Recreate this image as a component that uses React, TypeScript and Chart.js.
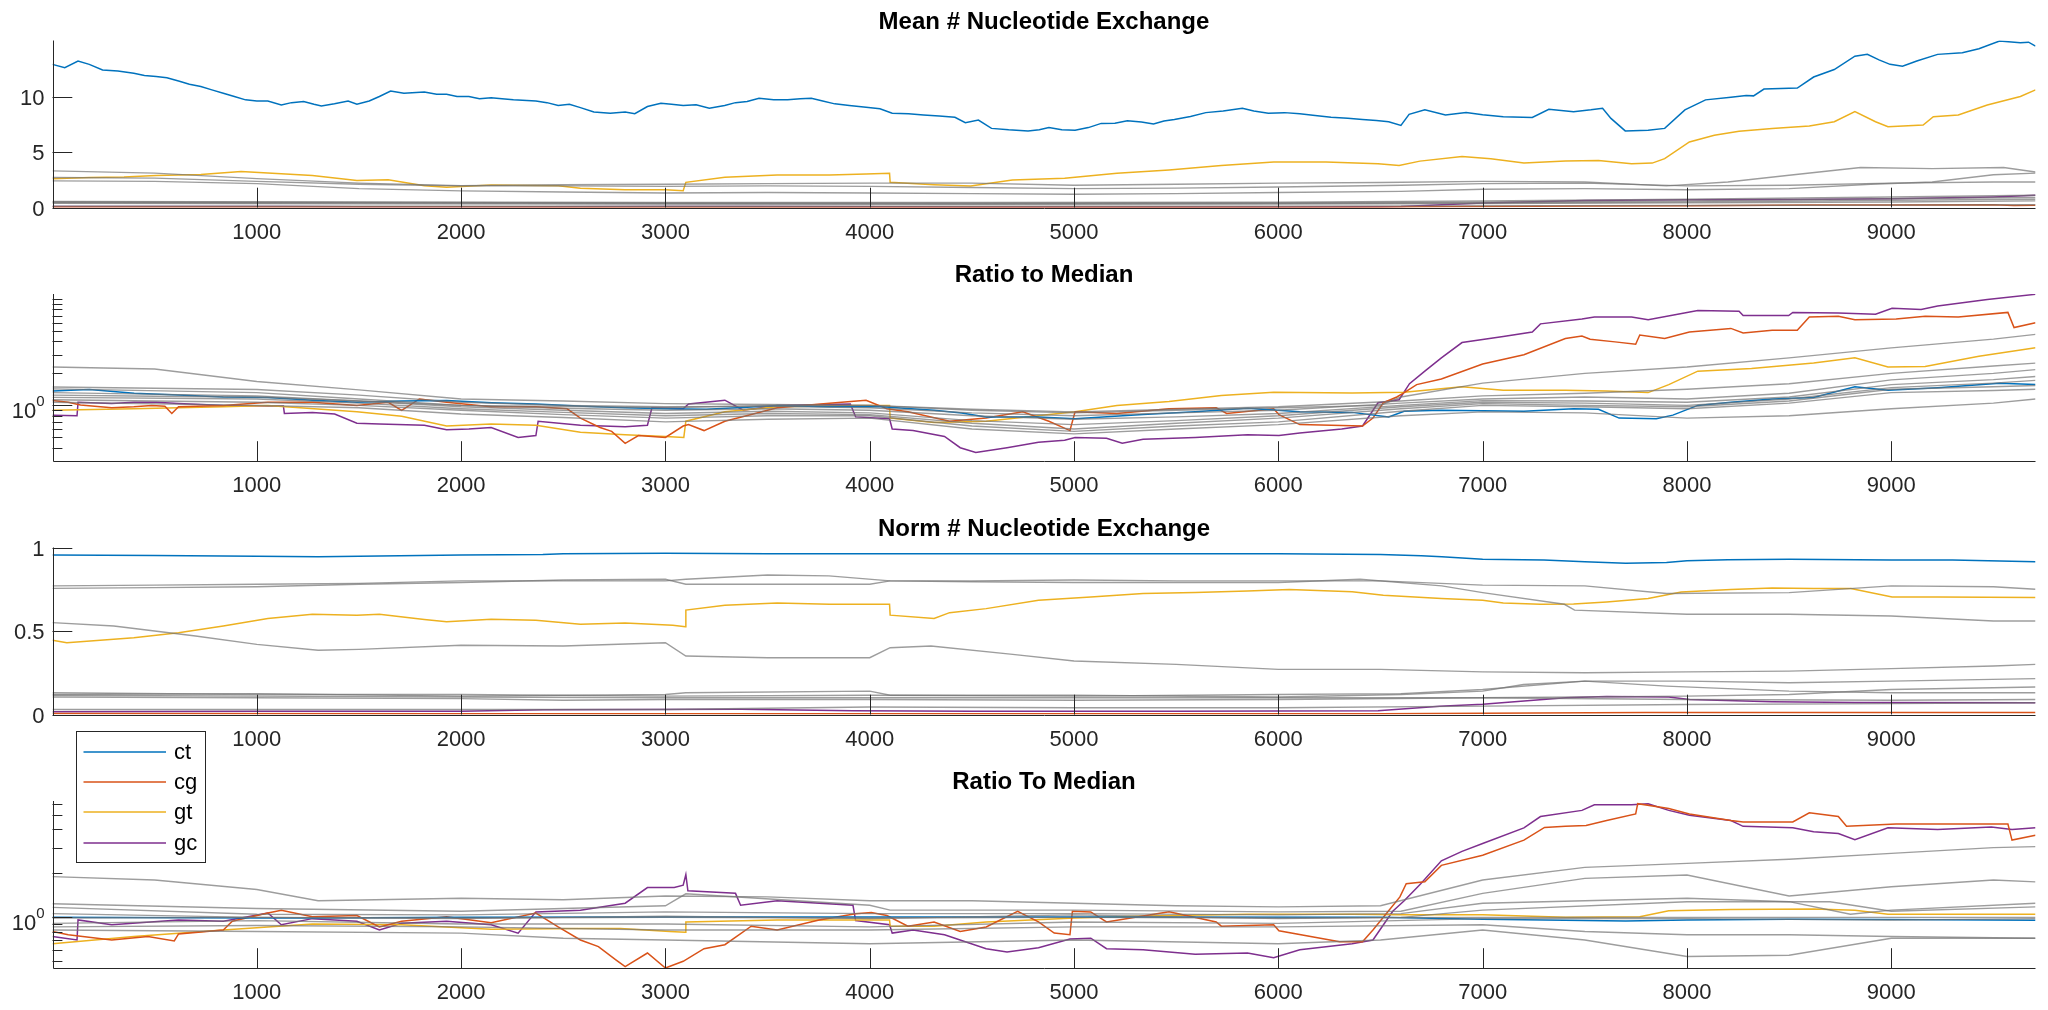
import React, { useEffect, useRef } from 'react';
import { Chart, registerables } from 'chart.js';

Chart.register(...registerables);

// ---------------- data ----------------
const xTicks = [1000, 2000, 3000, 4000, 5000, 6000, 7000, 8000, 9000];
const xMax = 9706;
const titles = ['Mean # Nucleotide Exchange', 'Ratio to Median', 'Norm # Nucleotide Exchange', 'Ratio To Median'];
const legendLabels = ['ct', 'cg', 'gt', 'gc'];
const linTicks1 = [0, 5, 10];
const linLabels1 = ['0', '5', '10'];
const linTicks3 = [0, 0.5, 1];
const linLabels3 = ['0', '0.5', '1'];
const logMinor2 = [0.4, 0.5, 0.6, 0.7, 0.8, 0.9, 2, 3, 4, 5, 6, 7, 8, 9, 10];
const logMinor4 = [0.5, 0.6, 0.7, 0.8, 0.9, 2, 3, 4, 5, 6];

type P = [number, number][];

// Panel 1: mean # nucleotide exchange
const meanCt: P = [[0,12.9],[60,12.6],[125,13.2],[180,12.9],[245,12.4],[320,12.3],[398,12.1],[450,11.9],[507,11.8],[560,11.7],[617,11.4],[670,11.1],[726,10.9],[780,10.6],[836,10.3],[890,10.0],[945,9.7],[1000,9.6],[1054,9.6],[1120,9.25],[1170,9.45],[1229,9.55],[1280,9.3],[1316,9.15],[1380,9.35],[1447,9.6],[1490,9.3],[1550,9.6],[1600,10.0],[1655,10.5],[1720,10.3],[1820,10.4],[1880,10.2],[1929,10.2],[1980,10.0],[2038,10.0],[2090,9.8],[2147,9.9],[2200,9.8],[2256,9.7],[2366,9.6],[2420,9.45],[2475,9.2],[2530,9.3],[2584,9.0],[2650,8.6],[2730,8.5],[2803,8.6],[2850,8.45],[2912,9.1],[2978,9.4],[3030,9.3],[3087,9.2],[3150,9.25],[3215,8.95],[3290,9.2],[3343,9.45],[3400,9.55],[3458,9.85],[3530,9.7],[3598,9.7],[3660,9.8],[3714,9.85],[3770,9.6],[3829,9.34],[3900,9.2],[3982,9.04],[4050,8.9],[4110,8.5],[4190,8.45],[4263,8.34],[4340,8.25],[4417,8.13],[4468,7.64],[4532,7.88],[4596,7.13],[4680,7.0],[4775,6.9],[4830,7.0],[4877,7.2],[4940,7.0],[5005,6.97],[5070,7.2],[5133,7.58],[5200,7.6],[5261,7.82],[5330,7.7],[5389,7.52],[5440,7.8],[5491,7.94],[5570,8.2],[5645,8.55],[5730,8.7],[5824,8.95],[5880,8.7],[5951,8.5],[6030,8.55],[6105,8.44],[6180,8.3],[6258,8.13],[6340,8.05],[6412,7.94],[6480,7.85],[6540,7.73],[6600,7.4],[6640,8.4],[6717,8.8],[6818,8.34],[6919,8.55],[7000,8.35],[7101,8.18],[7243,8.12],[7324,8.85],[7445,8.64],[7530,8.8],[7587,8.95],[7628,8.03],[7698,6.9],[7810,6.96],[7891,7.13],[7990,8.8],[8091,9.7],[8215,9.94],[8290,10.1],[8326,10.06],[8377,10.67],[8540,10.76],[8620,11.76],[8721,12.43],[8822,13.64],[8883,13.8],[8940,13.3],[8994,12.9],[9055,12.73],[9125,13.2],[9227,13.8],[9348,13.94],[9429,14.3],[9530,15.0],[9632,14.85],[9672,14.9],[9706,14.55]];
const meanCg: P = [[0,0.05],[1000,0.05],[2000,0.04],[2800,0.02],[3500,0.03],[4500,0.03],[5500,0.03],[6500,0.03],[6700,0.06],[7000,0.1],[7500,0.14],[8000,0.16],[8600,0.22],[9000,0.22],[9500,0.24],[9600,0.19],[9706,0.21]];
const meanGt: P = [[0,2.58],[180,2.7],[350,2.75],[507,2.88],[726,2.97],[923,3.25],[1054,3.1],[1272,2.88],[1490,2.43],[1643,2.5],[1820,1.97],[1929,1.82],[2147,2.03],[2475,1.97],[2584,1.73],[2803,1.6],[3000,1.6],[3087,1.52],[3100,2.27],[3291,2.73],[3547,2.94],[3803,2.94],[3982,3.03],[4097,3.09],[4100,2.27],[4315,2.06],[4494,1.94],[4698,2.48],[4954,2.63],[5210,3.09],[5465,3.39],[5721,3.79],[5977,4.09],[6233,4.09],[6488,3.94],[6591,3.79],[6693,4.18],[6899,4.6],[7040,4.4],[7202,4.0],[7405,4.2],[7567,4.24],[7729,3.94],[7830,4.0],[7891,4.4],[8012,5.91],[8134,6.52],[8255,6.88],[8417,7.13],[8599,7.34],[8721,7.73],[8822,8.64],[8923,7.73],[8984,7.28],[9156,7.43],[9206,8.18],[9328,8.34],[9470,9.24],[9632,10.0],[9706,10.6]];
const meanGc: P = [[0,0.08],[125,0.1],[1130,0.1],[1500,0.07],[2000,0.06],[2400,0.07],[3000,0.09],[3400,0.09],[4100,0.07],[4500,0.04],[5000,0.05],[6000,0.05],[6400,0.06],[6600,0.1],[6800,0.25],[7000,0.4],[7300,0.55],[7500,0.62],[8000,0.7],[8500,0.72],[9000,0.78],[9500,0.95],[9706,1.1]];
const meanG1: P = [[0,3.3],[500,3.1],[1000,2.6],[1500,2.2],[2000,1.97],[2500,2.05],[3000,2.1],[3500,2.15],[4000,2.2],[4500,2.2],[5000,2.0],[5500,2.1],[6000,2.2],[6500,2.25],[7000,2.35],[7500,2.3],[7900,1.95],[8200,2.3],[8500,2.9],[8850,3.6],[9200,3.5],[9550,3.6],[9706,3.2]];
const meanG2: P = [[0,2.7],[500,2.65],[1000,2.35],[1500,2.1],[2000,1.95],[2500,1.95],[3000,1.9],[3500,1.95],[4000,1.9],[4500,1.8],[5000,1.7],[5500,1.75],[6000,1.85],[6600,2.0],[7000,2.15],[7500,2.2],[8000,1.95],[8500,2.0],[9000,2.2],[9500,2.3],[9706,2.3]];
const meanG3: P = [[0,2.4],[500,2.35],[1000,2.15],[1500,1.7],[2000,1.5],[2500,1.4],[3000,1.3],[3500,1.35],[4000,1.3],[4500,1.25],[5000,1.2],[5500,1.25],[6000,1.35],[6600,1.45],[7000,1.65],[7500,1.7],[8000,1.6],[8500,1.7],[8900,2.1],[9200,2.3],[9500,2.95],[9706,3.1]];
const meanG4: P = [[0,0.55],[1500,0.5],[3000,0.45],[4500,0.45],[6000,0.48],[7000,0.6],[8000,0.75],[9000,0.95],[9706,1.1]];
const meanG5: P = [[0,0.5],[1500,0.45],[3000,0.4],[4500,0.38],[6000,0.42],[7000,0.5],[8000,0.6],[9000,0.8],[9706,0.9]];
const meanG6: P = [[0,0.45],[1500,0.4],[3000,0.35],[4500,0.33],[6000,0.38],[7000,0.42],[8000,0.5],[9000,0.65],[9706,0.75]];
const meanG7: P = [[0,0.38],[1500,0.33],[3000,0.3],[4500,0.28],[6000,0.32],[7000,0.36],[8000,0.42],[9000,0.5],[9706,0.6]];
const meanG8: P = [[0,0.12],[3000,0.11],[6000,0.12],[8000,0.18],[9706,0.25]];

// Panel 2: ratio to median (of mean)
const ratioCt: P = [[0,1.37],[180,1.41],[400,1.3],[617,1.25],[836,1.2],[1054,1.19],[1272,1.12],[1490,1.07],[1709,1.1],[1929,1.11],[2150,1.06],[2366,1.03],[2600,0.98],[2803,0.95],[3000,0.93],[3200,0.92],[3400,0.96],[3547,1.0],[3803,0.97],[4059,0.97],[4315,0.9],[4450,0.85],[4570,0.78],[4826,0.78],[5005,0.75],[5200,0.79],[5338,0.82],[5593,0.87],[5849,0.94],[6105,0.87],[6361,0.86],[6540,0.78],[6616,0.88],[6798,0.9],[7000,0.89],[7202,0.88],[7445,0.93],[7567,0.92],[7668,0.76],[7850,0.75],[7931,0.81],[8053,1.0],[8215,1.07],[8417,1.15],[8620,1.19],[8822,1.5],[8984,1.39],[9227,1.47],[9530,1.62],[9706,1.57]];
const ratioCg: P = [[0,1.11],[77,1.07],[137,1.01],[290,0.95],[398,0.97],[486,1.0],[550,0.98],[584,0.84],[617,0.97],[836,1.0],[1054,1.07],[1272,1.07],[1490,1.0],[1643,1.07],[1709,0.9],[1796,1.15],[1929,1.07],[2147,0.97],[2366,0.97],[2519,0.93],[2584,0.76],[2680,0.62],[2737,0.57],[2803,0.44],[2868,0.52],[3000,0.5],[3087,0.64],[3113,0.66],[3189,0.58],[3291,0.71],[3420,0.82],[3547,0.95],[3803,1.05],[3982,1.12],[4084,0.93],[4187,0.87],[4391,0.71],[4570,0.76],[4749,0.87],[4877,0.71],[4980,0.58],[5005,0.87],[5210,0.84],[5465,0.93],[5696,0.95],[5747,0.84],[5977,0.93],[6003,0.82],[6105,0.66],[6412,0.64],[6463,0.76],[6514,1.06],[6580,1.2],[6616,1.32],[6677,1.57],[6798,1.77],[7000,2.45],[7202,3.0],[7405,4.26],[7486,4.5],[7526,4.2],[7648,3.96],[7749,3.76],[7769,4.6],[7891,4.26],[8012,4.9],[8215,5.3],[8275,4.8],[8417,5.1],[8540,5.1],[8599,6.8],[8741,6.9],[8822,6.4],[9024,6.5],[9166,6.9],[9328,6.8],[9571,7.5],[9601,5.4],[9706,6.0]];
const ratioGt: P = [[0,0.9],[398,0.93],[836,0.97],[1054,1.0],[1490,0.87],[1709,0.79],[1929,0.64],[2147,0.67],[2366,0.65],[2584,0.56],[2803,0.53],[3000,0.51],[3090,0.5],[3100,0.71],[3291,0.87],[3547,0.97],[3931,1.0],[4097,1.0],[4100,0.76],[4315,0.69],[4570,0.71],[5005,0.87],[5210,1.0],[5465,1.09],[5721,1.24],[5977,1.33],[6361,1.31],[6616,1.33],[6899,1.5],[7101,1.39],[7405,1.39],[7607,1.37],[7810,1.32],[7911,1.57],[8053,2.1],[8316,2.23],[8620,2.5],[8822,2.8],[8984,2.3],[9166,2.32],[9429,2.9],[9706,3.48]];
const ratioGc: P = [[0,0.81],[120,0.8],[125,1.07],[290,1.04],[398,1.07],[507,1.07],[617,1.04],[836,1.0],[1054,0.99],[1130,0.99],[1135,0.84],[1272,0.86],[1381,0.83],[1490,0.68],[1600,0.67],[1820,0.65],[1929,0.59],[2038,0.6],[2147,0.62],[2279,0.5],[2366,0.52],[2377,0.71],[2584,0.65],[2803,0.63],[2912,0.65],[2934,0.95],[3087,0.93],[3113,1.03],[3291,1.12],[3381,0.9],[3547,1.0],[3905,1.03],[3931,0.78],[4097,0.75],[4110,0.6],[4212,0.58],[4366,0.51],[4443,0.4],[4519,0.36],[4672,0.4],[4826,0.45],[4954,0.47],[5005,0.5],[5159,0.49],[5236,0.44],[5338,0.48],[5593,0.5],[5849,0.53],[6003,0.52],[6105,0.55],[6310,0.6],[6412,0.64],[6488,1.06],[6591,1.13],[6642,1.6],[6717,2.1],[6798,2.8],[6899,3.9],[7101,4.45],[7243,4.9],[7283,5.85],[7486,6.5],[7547,6.8],[7729,6.8],[7810,6.4],[8053,7.8],[8255,7.7],[8275,7.0],[8498,7.0],[8518,7.5],[8741,7.4],[8923,7.2],[9004,8.2],[9146,8.0],[9227,8.6],[9470,9.9],[9706,11.1]];
const ratioG1: P = [[0,1.25],[500,1.22],[1000,1.2],[1500,1.1],[2000,1.0],[2500,0.98],[3000,0.95],[3500,1.0],[4000,1.0],[4500,0.9],[5000,0.85],[5500,0.9],[6000,0.95],[6500,1.0],[6600,1.2],[7000,1.62],[7500,2.0],[8000,2.3],[8500,2.8],[9000,3.48],[9500,4.2],[9706,4.66]];
const ratioG2: P = [[0,2.3],[500,2.2],[1000,1.68],[1500,1.4],[2000,1.15],[2500,1.1],[3000,1.04],[3500,1.02],[4000,1.0],[4500,0.92],[5000,0.87],[5500,0.92],[6000,0.97],[6600,1.1],[7000,1.23],[7500,1.3],[8000,1.42],[8500,1.6],[9000,2.0],[9500,2.35],[9706,2.5]];
const ratioG3: P = [[0,1.49],[1000,1.41],[1500,1.25],[2000,1.07],[2500,1.0],[3000,0.97],[3500,0.98],[4000,0.95],[4500,0.85],[5000,0.8],[5500,0.85],[6000,0.9],[6600,1.05],[7000,1.15],[7500,1.2],[8000,1.15],[8500,1.3],[9000,1.74],[9500,2.0],[9706,2.17]];
const ratioG4: P = [[0,1.43],[1000,1.32],[1500,1.15],[2000,1.0],[2500,0.94],[3000,0.9],[3500,0.93],[4000,0.9],[4500,0.8],[5000,0.74],[5500,0.78],[6000,0.84],[6600,1.0],[7000,1.11],[7500,1.1],[8000,1.07],[8500,1.2],[9000,1.57],[9500,1.75],[9706,1.87]];
const ratioG5: P = [[0,1.32],[1000,1.23],[1500,1.1],[2000,0.97],[2500,0.9],[3000,0.84],[3500,0.88],[4000,0.85],[4500,0.72],[5000,0.66],[5500,0.72],[6000,0.8],[6600,0.97],[7000,1.07],[7500,1.05],[8000,1.0],[8500,1.15],[9000,1.47],[9500,1.62],[9706,1.72]];
const ratioG6: P = [[0,1.19],[1000,1.15],[1500,1.05],[2000,0.93],[2500,0.86],[3000,0.8],[3500,0.84],[4000,0.82],[4500,0.68],[5000,0.6],[5500,0.68],[6000,0.76],[6600,0.93],[7000,1.04],[7500,1.0],[8000,0.97],[8500,1.1],[9000,1.42],[9500,1.5],[9706,1.54]];
const ratioG7: P = [[0,1.13],[1000,1.07],[1500,1.0],[2000,0.9],[2500,0.82],[3000,0.76],[3500,0.8],[4000,0.8],[4500,0.64],[5000,0.57],[5500,0.64],[6000,0.7],[6600,0.88],[7000,1.0],[7500,0.97],[8000,0.93],[8500,1.05],[9000,1.32],[9500,1.38],[9706,1.42]];
const ratioG8: P = [[0,1.07],[1000,1.0],[1500,0.95],[2000,0.83],[2500,0.77],[3000,0.7],[3500,0.74],[4000,0.76],[4500,0.6],[5000,0.54],[5500,0.6],[6000,0.66],[6600,0.8],[7000,0.87],[7500,0.85],[8000,0.76],[8500,0.8],[9000,0.93],[9500,1.05],[9706,1.15]];

// Panel 3: normalised # nucleotide exchange
const normCt: P = [[0,0.955],[500,0.952],[1000,0.948],[1300,0.944],[1700,0.95],[2000,0.955],[2400,0.958],[2500,0.963],[3000,0.966],[3500,0.963],[4000,0.962],[4500,0.963],[5000,0.963],[5500,0.962],[6000,0.963],[6500,0.958],[6700,0.95],[6800,0.945],[7000,0.93],[7300,0.925],[7500,0.915],[7700,0.905],[7900,0.91],[8000,0.92],[8200,0.927],[8500,0.93],[9000,0.925],[9300,0.925],[9706,0.915]];
const normCg: P = [[0,0.006],[2000,0.005],[3000,0.004],[5000,0.005],[6500,0.005],[7000,0.008],[7800,0.012],[8500,0.012],[9706,0.012]];
const normGt: P = [[0,0.445],[70,0.43],[398,0.46],[617,0.49],[836,0.53],[1054,0.575],[1272,0.6],[1490,0.595],[1600,0.6],[1820,0.569],[1929,0.555],[2147,0.57],[2366,0.565],[2584,0.54],[2803,0.548],[3036,0.535],[3098,0.525],[3100,0.625],[3291,0.654],[3547,0.668],[3803,0.66],[4097,0.66],[4100,0.595],[4315,0.575],[4391,0.61],[4570,0.634],[4826,0.684],[5082,0.704],[5338,0.724],[5593,0.73],[5849,0.74],[6054,0.748],[6361,0.735],[6514,0.714],[6798,0.694],[7000,0.684],[7101,0.668],[7283,0.66],[7445,0.662],[7607,0.674],[7810,0.694],[7972,0.734],[8215,0.748],[8417,0.758],[8620,0.755],[8802,0.755],[9004,0.704],[9227,0.704],[9706,0.7]];
const normGc: P = [[0,0.016],[1000,0.02],[2000,0.02],[2400,0.028],[3368,0.032],[3918,0.022],[4500,0.02],[5500,0.02],[6488,0.022],[6790,0.05],[7000,0.062],[7405,0.1],[7607,0.108],[7911,0.105],[8012,0.09],[8417,0.076],[8822,0.072],[9706,0.07]];
const normG1: P = [[0,0.755],[500,0.76],[1000,0.765],[1500,0.78],[2000,0.79],[2500,0.805],[3000,0.81],[3100,0.78],[3500,0.78],[4000,0.78],[4100,0.8],[4500,0.8],[5000,0.805],[5500,0.8],[6000,0.8],[6500,0.8],[7000,0.775],[7500,0.77],[7900,0.725],[8500,0.73],[9000,0.77],[9500,0.765],[9706,0.75]];
const normG2: P = [[0,0.77],[500,0.775],[1000,0.78],[1500,0.785],[2000,0.8],[2500,0.8],[3000,0.8],[3100,0.81],[3500,0.835],[3800,0.83],[4100,0.8],[4500,0.795],[5000,0.79],[5500,0.79],[6000,0.79],[6400,0.81],[6800,0.77],[7000,0.73],[7400,0.66],[7450,0.625],[8000,0.6],[8500,0.6],[9000,0.59],[9500,0.56],[9706,0.56]];
const normG3: P = [[0,0.55],[300,0.53],[700,0.47],[1000,0.42],[1300,0.385],[1500,0.39],[2000,0.415],[2500,0.41],[3000,0.43],[3100,0.35],[3500,0.34],[4000,0.34],[4100,0.4],[4300,0.41],[4700,0.36],[5000,0.32],[5500,0.3],[6000,0.27],[6500,0.27],[7000,0.255],[7500,0.25],[8000,0.255],[8500,0.26],[9000,0.275],[9500,0.29],[9706,0.3]];
const normG4: P = [[0,0.13],[1000,0.12],[2000,0.12],[3000,0.11],[4000,0.115],[5000,0.11],[6000,0.12],[6600,0.125],[7000,0.15],[7500,0.2],[8000,0.2],[8500,0.19],[9000,0.2],[9706,0.215]];
const normG5: P = [[0,0.12],[1000,0.125],[2000,0.11],[3000,0.12],[3100,0.13],[4000,0.14],[4100,0.115],[5000,0.115],[6000,0.105],[6600,0.12],[7000,0.14],[7200,0.18],[7500,0.2],[7900,0.17],[8500,0.14],[9000,0.13],[9706,0.13]];
const normG6: P = [[0,0.115],[1000,0.11],[2000,0.105],[3000,0.1],[4000,0.1],[5000,0.1],[6000,0.1],[7000,0.1],[8000,0.11],[8500,0.12],[9000,0.15],[9500,0.16],[9706,0.165]];
const normG7: P = [[0,0.105],[1000,0.1],[2000,0.095],[2500,0.085],[3000,0.09],[4000,0.09],[5000,0.085],[6000,0.09],[7000,0.1],[8000,0.09],[9000,0.085],[9706,0.09]];
const normG8: P = [[0,0.03],[1000,0.03],[2000,0.03],[3000,0.03],[4000,0.045],[5000,0.04],[6000,0.04],[7000,0.05],[8000,0.06],[9000,0.065],[9706,0.07]];

// Panel 4: ratio to median (of normalised)
const rnCt: P = [[0,1.0],[1000,0.99],[1300,0.988],[2000,1.0],[3000,1.005],[5000,1.005],[6500,1.0],[7000,0.97],[7700,0.945],[8000,0.96],[8500,0.97],[9000,0.965],[9706,0.955]];
const rnCg: P = [[0,0.8],[77,0.76],[290,0.7],[467,0.74],[596,0.69],[617,0.77],[836,0.82],[880,0.94],[1054,1.07],[1120,1.12],[1272,1.01],[1490,1.03],[1600,0.86],[1709,0.94],[1929,1.01],[2147,0.92],[2366,1.07],[2475,0.86],[2584,0.7],[2672,0.63],[2759,0.51],[2803,0.46],[2912,0.57],[3000,0.45],[3087,0.5],[3189,0.61],[3291,0.65],[3420,0.87],[3547,0.82],[3752,0.96],[3931,1.06],[4008,1.08],[4084,1.03],[4187,0.87],[4315,0.93],[4443,0.8],[4570,0.86],[4724,1.1],[4826,0.93],[4903,0.78],[4980,0.76],[4992,1.1],[5082,1.09],[5159,0.93],[5338,1.02],[5465,1.09],[5696,0.93],[5721,0.87],[5977,0.89],[6003,0.81],[6300,0.68],[6412,0.68],[6463,0.82],[6514,1.0],[6595,1.38],[6626,1.7],[6717,1.75],[6798,2.27],[7000,2.66],[7202,3.38],[7303,4.13],[7405,4.2],[7506,4.25],[7607,4.6],[7749,5.1],[7759,6.0],[7911,5.57],[8012,5.1],[8215,4.6],[8275,4.5],[8518,4.5],[8599,5.2],[8741,4.9],[8781,4.2],[9024,4.35],[9227,4.35],[9571,4.35],[9591,3.38],[9706,3.65]];
const rnGt: P = [[0,0.66],[398,0.74],[836,0.82],[1272,0.9],[1709,0.89],[2147,0.83],[2584,0.84],[2780,0.84],[3021,0.8],[3098,0.79],[3100,0.93],[3547,0.96],[4097,0.96],[4100,0.87],[4315,0.87],[4570,0.93],[5005,0.99],[5338,1.02],[5849,1.05],[6361,1.05],[6595,1.04],[7000,1.04],[7405,1.0],[7769,1.01],[7911,1.11],[8215,1.13],[8620,1.14],[8822,1.12],[8984,1.05],[9706,1.05]];
const rnGc: P = [[0,0.74],[120,0.7],[125,0.96],[290,0.89],[617,0.96],[836,0.94],[1054,1.07],[1120,0.89],[1272,0.98],[1490,0.94],[1600,0.82],[1709,0.91],[1929,0.94],[2147,0.89],[2279,0.78],[2366,1.09],[2584,1.12],[2803,1.25],[2912,1.6],[3043,1.6],[3087,1.66],[3100,1.96],[3110,1.52],[3343,1.46],[3368,1.21],[3547,1.3],[3918,1.21],[3931,0.95],[4097,0.89],[4110,0.78],[4212,0.82],[4366,0.76],[4570,0.61],[4672,0.58],[4826,0.62],[4980,0.71],[5082,0.72],[5159,0.61],[5338,0.6],[5593,0.56],[5849,0.57],[5977,0.53],[6105,0.6],[6361,0.66],[6463,0.7],[6560,1.1],[6616,1.3],[6697,1.7],[6798,2.44],[6899,2.83],[7000,3.2],[7202,4.1],[7283,4.9],[7486,5.4],[7547,5.9],[7729,5.9],[7810,6.0],[7911,5.4],[8012,5.0],[8215,4.6],[8275,4.2],[8518,4.1],[8620,3.85],[8741,3.75],[8822,3.4],[8984,4.1],[9227,4.0],[9490,4.15],[9591,4.0],[9706,4.1]];
const rnG1: P = [[0,1.9],[500,1.8],[1000,1.55],[1300,1.3],[2000,1.35],[2500,1.32],[3000,1.4],[3500,1.38],[4000,1.3],[4500,1.3],[5000,1.25],[5500,1.2],[6000,1.18],[6500,1.2],[7000,1.8],[7500,2.2],[8000,2.34],[8500,2.5],[9000,2.74],[9500,3.0],[9706,3.05]];
const rnG2: P = [[0,1.24],[1000,1.15],[2000,1.1],[3000,1.2],[3100,1.45],[4000,1.21],[4100,1.12],[5000,1.12],[6000,1.09],[6600,1.1],[7000,1.46],[7500,1.85],[8000,1.95],[8500,1.4],[9000,1.62],[9500,1.8],[9706,1.75]];
const rnG3: P = [[0,1.17],[1000,1.05],[2000,1.04],[3000,1.09],[4000,1.06],[5000,1.06],[6000,1.04],[6600,1.06],[7000,1.25],[7500,1.3],[8000,1.35],[8500,1.28],[8800,1.05],[9000,1.12],[9706,1.25]];
const rnG4: P = [[0,1.06],[1000,1.0],[2000,0.98],[3000,1.02],[4000,0.98],[5000,1.04],[6000,0.98],[6600,1.0],[7000,1.12],[8000,1.28],[8700,1.28],[9000,1.1],[9706,1.18]];
const rnG5: P = [[0,0.99],[1000,1.0],[2000,0.99],[3000,1.0],[4000,0.99],[5000,1.0],[6000,0.99],[7000,1.0],[8000,1.0],[9000,1.0],[9706,1.0]];
const rnG6: P = [[0,0.91],[1000,0.95],[2000,0.9],[3000,0.9],[4000,0.86],[5000,0.93],[6000,0.91],[7000,0.98],[8000,0.98],[9000,0.96],[9706,0.98]];
const rnG7: P = [[0,0.86],[1000,0.88],[2000,0.86],[3000,0.82],[4000,0.82],[5000,0.86],[6000,0.86],[7000,0.89],[7500,0.8],[8000,0.76],[8500,0.76],[9000,0.74],[9706,0.72]];
const rnG8: P = [[0,0.82],[1000,0.8],[2000,0.78],[2500,0.72],[3000,0.7],[4000,0.66],[5000,0.7],[6000,0.66],[6500,0.7],[7000,0.82],[7500,0.7],[8000,0.54],[8500,0.55],[9000,0.72],[9706,0.72]];

// ---------------- style / layout ----------------
const W = 2048;
const H = 1010;
const LEFT = 52.5;
const RIGHT = 2035.5;
const TOPS = [40.5, 294, 547.5, 801];
const PH = 167;
const COLORS = ['#0072BD', '#D95319', '#EDB120', '#7E2F8E'];
const GRAY = 'rgba(115,115,115,0.7)';
const AXIS = '#262626';
const FONT = '"Liberation Sans", Arial, Helvetica, sans-serif';
const TICK = 19.8;

type Panel = {
  title: string;
  colored: P[];
  grays: P[];
  log: boolean;
  yMin: number;
  yMax: number;
  yTicks?: number[];
  yLabels?: string[];
  minor?: number[];
  legend?: boolean;
};

const panels: Panel[] = [
  { title: titles[0], colored: [meanCt, meanCg, meanGt, meanGc], grays: [meanG1, meanG2, meanG3, meanG4, meanG5, meanG6, meanG7, meanG8], log: false, yMin: 0, yMax: 15.05, yTicks: linTicks1, yLabels: linLabels1 },
  { title: titles[1], colored: [ratioCt, ratioCg, ratioGt, ratioGc], grays: [ratioG1, ratioG2, ratioG3, ratioG4, ratioG5, ratioG6, ratioG7, ratioG8], log: true, yMin: 0.346, yMax: 11.17, minor: logMinor2 },
  { title: titles[2], colored: [normCt, normCg, normGt, normGc], grays: [normG1, normG2, normG3, normG4, normG5, normG6, normG7, normG8], log: false, yMin: 0, yMax: 1, yTicks: linTicks3, yLabels: linLabels3 },
  { title: titles[3], colored: [rnCt, rnCg, rnGt, rnGc], grays: [rnG1, rnG2, rnG3, rnG4, rnG5, rnG6, rnG7, rnG8], log: true, yMin: 0.45, yMax: 6.26, minor: logMinor4, legend: true },
];

const toXY = (p: P) => p.map(([x, y]) => ({ x, y }));

function makeAxesPlugin(panel: Panel) {
  return {
    id: 'matlabAxes',
    afterDraw(chart: any) {
      const { ctx, chartArea: a, scales } = chart;
      const xs = scales.x;
      const ys = scales.y;
      ctx.save();
      ctx.strokeStyle = AXIS;
      ctx.lineWidth = 1;
      ctx.beginPath();
      ctx.moveTo(Math.round(a.left) + 0.5, a.top);
      ctx.lineTo(Math.round(a.left) + 0.5, Math.round(a.bottom) + 0.5);
      ctx.lineTo(a.right, Math.round(a.bottom) + 0.5);
      for (const t of xTicks) {
        const px = Math.round(xs.getPixelForValue(t)) + 0.5;
        ctx.moveTo(px, a.bottom);
        ctx.lineTo(px, a.bottom - TICK);
      }
      if (panel.log) {
        for (const t of panel.minor || []) {
          const py = Math.round(ys.getPixelForValue(t)) + 0.5;
          ctx.moveTo(a.left, py);
          ctx.lineTo(a.left + TICK / 2, py);
        }
        const p1 = Math.round(ys.getPixelForValue(1)) + 0.5;
        ctx.moveTo(a.left, p1);
        ctx.lineTo(a.left + TICK, p1);
      } else {
        for (const t of panel.yTicks || []) {
          const py = Math.round(ys.getPixelForValue(t)) + 0.5;
          ctx.moveTo(a.left, py);
          ctx.lineTo(a.left + TICK, py);
        }
      }
      ctx.stroke();

      // x tick labels
      ctx.fillStyle = AXIS;
      ctx.font = `22px ${FONT}`;
      ctx.textAlign = 'center';
      ctx.textBaseline = 'alphabetic';
      for (const t of xTicks) {
        ctx.fillText(String(t), xs.getPixelForValue(t), a.bottom + 31);
      }
      // y tick labels
      ctx.textAlign = 'right';
      if (panel.log) {
        const py = ys.getPixelForValue(1);
        ctx.font = `15px ${FONT}`;
        const supW = ctx.measureText('0').width;
        ctx.fillText('0', a.left - 8, py + 1);
        ctx.font = `22px ${FONT}`;
        ctx.fillText('10', a.left - 8 - supW, py + 13);
      } else {
        (panel.yTicks || []).forEach((t, i) => {
          ctx.fillText(panel.yLabels![i], a.left - 8, ys.getPixelForValue(t) + 8);
        });
      }
      // title
      ctx.fillStyle = '#000000';
      ctx.font = `bold 24px ${FONT}`;
      ctx.textAlign = 'center';
      ctx.fillText(panel.title, (a.left + a.right) / 2, a.top - 12);

      // legend
      if (panel.legend) {
        const bx = 76.5, by = 731.5, bw = 129, bh = 131;
        ctx.fillStyle = '#ffffff';
        ctx.fillRect(bx, by, bw, bh);
        ctx.strokeStyle = AXIS;
        ctx.lineWidth = 1;
        ctx.strokeRect(bx, by, bw, bh);
        const rows = [752, 782, 812, 843];
        legendLabels.forEach((lab, i) => {
          ctx.strokeStyle = COLORS[i];
          ctx.lineWidth = 1.5;
          ctx.beginPath();
          ctx.moveTo(83.5, rows[i]);
          ctx.lineTo(166, rows[i]);
          ctx.stroke();
          ctx.fillStyle = '#000000';
          ctx.font = `22px ${FONT}`;
          ctx.textAlign = 'left';
          ctx.textBaseline = 'middle';
          ctx.fillText(lab, 174, rows[i] + 1);
        });
      }
      ctx.restore();
    },
  };
}

function buildChart(canvas: HTMLCanvasElement, panel: Panel, top: number) {
  const datasets: any[] = [];
  panel.grays.forEach((g) => {
    datasets.push({ data: toXY(g), borderColor: GRAY, borderWidth: 1.4, pointRadius: 0, fill: false, tension: 0, order: 0 });
  });
  panel.colored.forEach((c, i) => {
    datasets.push({ label: legendLabels[i], data: toXY(c), borderColor: COLORS[i], borderWidth: 1.5, pointRadius: 0, fill: false, tension: 0, order: 1 });
  });
  return new Chart(canvas, {
    type: 'line',
    data: { datasets },
    options: {
      animation: false,
      responsive: false,
      devicePixelRatio: 1,
      events: [],
      layout: { padding: { left: LEFT, right: W - RIGHT, top, bottom: H - (top + PH) } },
      plugins: { legend: { display: false }, tooltip: { enabled: false }, title: { display: false } },
      scales: {
        x: { type: 'linear', min: 0, max: xMax, display: false },
        y: { type: panel.log ? 'logarithmic' : 'linear', min: panel.yMin, max: panel.yMax, display: false },
      },
    } as any,
    plugins: [makeAxesPlugin(panel)],
  });
}

export default function App() {
  const r0 = useRef<HTMLCanvasElement>(null);
  const r1 = useRef<HTMLCanvasElement>(null);
  const r2 = useRef<HTMLCanvasElement>(null);
  const r3 = useRef<HTMLCanvasElement>(null);
  useEffect(() => {
    const refs = [r0, r1, r2, r3];
    const charts = panels.map((p, i) => buildChart(refs[i].current!, p, TOPS[i]));
    return () => charts.forEach((c) => c.destroy());
  }, []);
  const cs: React.CSSProperties = { position: 'absolute', left: 0, top: 0, width: W, height: H };
  return (
    <div style={{ position: 'absolute', left: 0, top: 0, width: W, height: H, background: '#ffffff', overflow: 'hidden' }}>
      <canvas ref={r0} width={W} height={H} style={cs} />
      <canvas ref={r1} width={W} height={H} style={cs} />
      <canvas ref={r2} width={W} height={H} style={cs} />
      <canvas ref={r3} width={W} height={H} style={cs} />
    </div>
  );
}
